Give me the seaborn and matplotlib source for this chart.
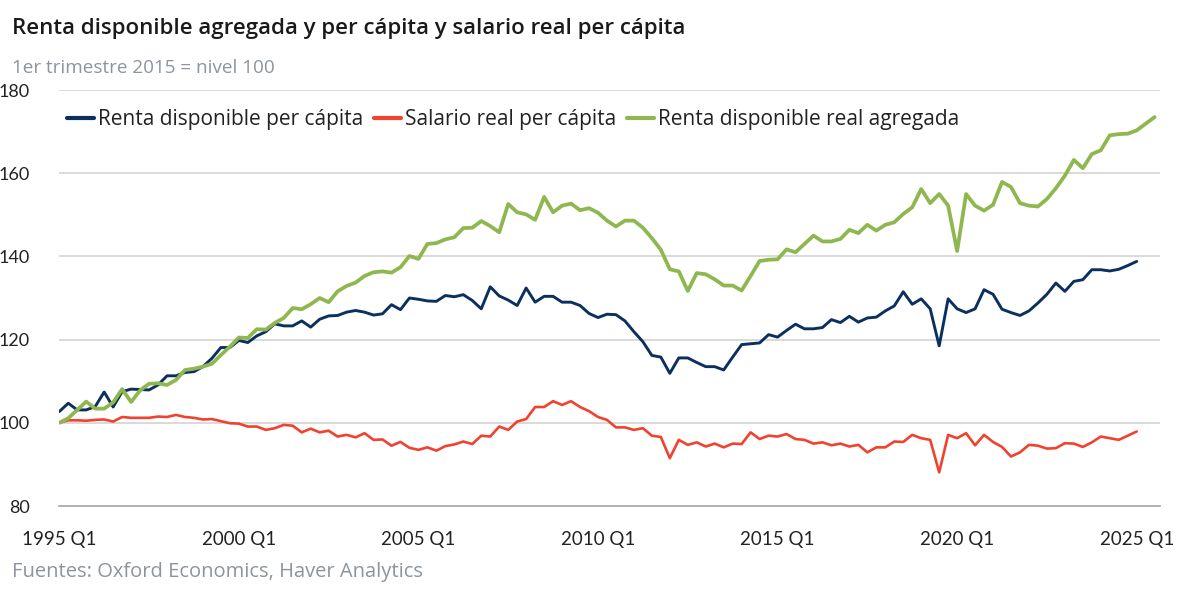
import matplotlib
matplotlib.use("Agg")
import matplotlib.pyplot as plt
import seaborn as sns
import pandas as pd
import numpy as np

# quarterly index values (1995 Q1 = first point)
renta_pc = [
    102.7, 104.7, 103.1, 103.1, 103.9, 107.4, 103.8, 107.5, 108.1, 108.0,
    107.9, 109.1, 111.3, 111.3, 112.1, 112.3, 113.5, 115.5, 118.1, 118.1,
    119.8, 119.3, 120.9, 121.9, 123.8, 123.3, 123.3, 124.5, 123.0, 124.9,
    125.7, 125.8, 126.6, 127.0, 126.6, 125.9, 126.2, 128.4, 127.2, 130.0,
    129.7, 129.3, 129.2, 130.6, 130.3, 130.8, 129.4, 127.4, 132.7, 130.5,
    129.5, 128.2, 132.4, 129.0, 130.4, 130.4, 129.0, 129.0, 128.2, 126.3,
    125.3, 126.1, 126.0, 124.5, 121.9, 119.5, 116.2, 115.8, 111.9, 115.6,
    115.6, 114.5, 113.5, 113.5, 112.7, 115.8, 118.8, 119.0, 119.2, 121.2,
    120.6, 122.2, 123.7, 122.6, 122.6, 122.9, 124.8, 124.1, 125.6, 124.2,
    125.2, 125.4, 126.9, 128.1, 131.5, 128.5, 129.8, 127.4, 118.5, 129.8,
    127.4, 126.5, 127.4, 132.0, 130.9, 127.3, 126.5, 125.8, 126.9, 128.8,
    130.9, 133.6, 131.6, 134.0, 134.4, 136.8, 136.8, 136.5, 136.9, 137.8,
    138.8,
]

salario_pc = [
    100.0, 100.6, 100.6, 100.5, 100.7, 100.8, 100.3, 101.4, 101.2, 101.2,
    101.2, 101.5, 101.4, 101.9, 101.4, 101.2, 100.8, 100.9, 100.4, 99.9,
    99.8, 99.1, 99.1, 98.3, 98.7, 99.5, 99.3, 97.7, 98.6, 97.7,
    98.1, 96.7, 97.1, 96.5, 97.5, 95.9, 96.0, 94.5, 95.4, 94.0,
    93.5, 94.1, 93.3, 94.4, 94.8, 95.5, 94.9, 96.9, 96.7, 99.1,
    98.3, 100.3, 100.9, 103.8, 103.8, 105.2, 104.3, 105.2, 103.8, 102.8,
    101.4, 100.7, 98.9, 98.9, 98.3, 98.7, 96.9, 96.6, 91.5, 95.9,
    94.7, 95.3, 94.3, 95.0, 94.1, 95.0, 94.9, 97.7, 96.1, 96.9,
    96.7, 97.3, 96.1, 95.9, 95.0, 95.3, 94.6, 95.0, 94.3, 94.7,
    92.9, 94.1, 94.1, 95.5, 95.4, 97.1, 96.3, 95.9, 88.1, 97.1,
    96.3, 97.5, 94.6, 97.1, 95.4, 94.2, 91.9, 92.9, 94.7, 94.5,
    93.8, 93.9, 95.1, 95.0, 94.2, 95.3, 96.7, 96.3, 95.9, 96.9,
    97.9,
]

renta_agregada = [
    100.0, 101.1, 103.1, 105.1, 103.4, 103.4, 104.9, 108.1, 105.0, 107.8,
    109.4, 109.5, 109.1, 110.3, 112.7, 113.0, 113.5, 114.2, 116.3, 118.3,
    120.5, 120.4, 122.5, 122.4, 124.0, 125.2, 127.6, 127.3, 128.5, 130.0,
    129.0, 131.6, 132.9, 133.7, 135.3, 136.2, 136.4, 136.1, 137.4, 140.1,
    139.4, 143.0, 143.2, 144.1, 144.6, 146.8, 146.9, 148.5, 147.3, 145.8,
    152.6, 150.6, 150.1, 148.8, 154.3, 150.6, 152.2, 152.7, 151.1, 151.6,
    150.5, 148.6, 147.2, 148.6, 148.6, 146.9, 144.4, 141.6, 136.9, 136.4,
    131.7, 136.0, 135.7, 134.5, 133.0, 133.0, 131.8, 135.3, 138.9, 139.2,
    139.3, 141.7, 141.0, 143.0, 145.0, 143.6, 143.6, 144.2, 146.4, 145.6,
    147.6, 146.2, 147.6, 148.2, 150.2, 151.8, 156.2, 152.8, 155.0, 152.2,
    141.3, 155.0, 152.2, 151.0, 152.4, 157.9, 156.7, 152.8, 152.2, 152.0,
    153.8, 156.4, 159.4, 163.2, 161.2, 164.6, 165.5, 169.1, 169.4, 169.5,
    170.3, 171.9, 173.5,
]

series_names = ["Renta disponible per cápita", "Salario real per cápita",
                "Renta disponible real agregada"]
series_colors = ["#0c305e", "#f1412f", "#8fb74f"]
series_widths = [2.1, 1.9, 2.7]

tick_labels = ["1995 Q1", "2000 Q1", "2005 Q1", "2010 Q1", "2015 Q1", "2020 Q1", "2025 Q1"]
y_ticks = [80, 100, 120, 140, 160, 180]

frames = []
for name, vals in zip(series_names, [renta_pc, salario_pc, renta_agregada]):
    frames.append(pd.DataFrame({"q": np.arange(len(vals)), "valor": vals, "serie": name}))
df = pd.concat(frames, ignore_index=True)

sns.set_style("white")
plt.rcParams["font.family"] = ["Open Sans", "DejaVu Sans"]

fig = plt.figure(figsize=(12, 5.93), dpi=100)
ax = fig.add_axes([0.0494, 0.1467, 0.9173, 0.7015])

for name, color, lw in zip(series_names, series_colors, series_widths):
    sns.lineplot(data=df[df["serie"] == name], x="q", y="valor", color=color,
                 linewidth=lw, label=name, ax=ax)

ax.set_xlim(0, 122.6)
ax.set_ylim(80, 180)
ax.set_yticks(y_ticks)
ax.set_yticklabels([str(v) for v in y_ticks], fontsize=13, color="#222222",
                   family=["Lato", "DejaVu Sans"])
ax.set_xticks([20 * k for k in range(len(tick_labels))])
ax.set_xticklabels(tick_labels, fontsize=13.5, color="#222222",
                   family=["Lato", "DejaVu Sans"])
ax.tick_params(axis="y", length=0, pad=21)
ax.tick_params(axis="x", length=0, pad=18)
ax.set_xlabel("")
ax.set_ylabel("")

ax.grid(axis="y", color="#d3d3d3", linewidth=1.2)
ax.grid(axis="x", visible=False)
ax.set_axisbelow(True)
for side in ["top", "right", "left"]:
    ax.spines[side].set_visible(False)
ax.spines["bottom"].set_color("#a9aeb3")
ax.spines["bottom"].set_linewidth(1.3)

leg = ax.legend(loc="center left", bbox_to_anchor=(0.007, 0.928), ncol=3,
                frameon=False, fontsize=15, handlelength=1.3, handletextpad=0.2,
                columnspacing=0.5, borderpad=0, borderaxespad=0)
for line in leg.get_lines():
    line.set_linewidth(3)
for txt in leg.get_texts():
    txt.set_color("#222222")

fig.text(0.010, 0.952, "Renta disponible agregada y per cápita y salario real per cápita",
         fontsize=16, fontweight="semibold", color="#1a1a1a", va="center")
fig.text(0.010, 0.886, "1er trimestre 2015 = nivel 100", fontsize=13.6,
         color="#8c949c", va="center")
fig.text(0.010, 0.036, "Fuentes: Oxford Economics, Haver Analytics", fontsize=14.5,
         color="#8c949c", va="center")

fig.savefig("out.png", dpi=100)
